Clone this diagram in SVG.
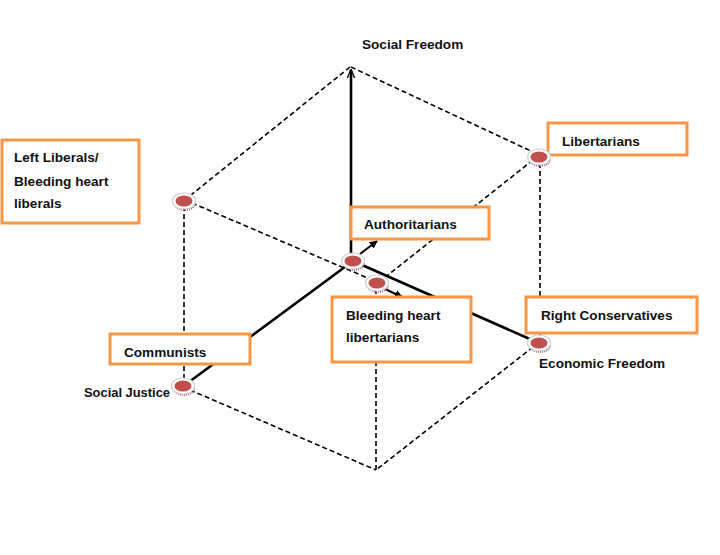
<svg xmlns="http://www.w3.org/2000/svg" width="720" height="555" viewBox="0 0 720 555">
<defs>
<style>
.dash{fill:none;stroke:#000;stroke-width:1.6;stroke-dasharray:5 3}
.solid{fill:none;stroke:#000;stroke-width:2.6}
.box{fill:#fff;stroke:#f79646;stroke-width:3}
.t{font-family:"Liberation Sans",Arial,sans-serif;font-weight:bold;font-size:13.6px;fill:#111}
.halo{fill:#fff;stroke:#cfcfcf;stroke-width:1.2}
.shadow{fill:none;stroke:#a8606a;stroke-width:1.8;stroke-dasharray:1 1}
.red{fill:#c0504d}
</style>
<marker id="ah" viewBox="0 0 10 10" refX="9" refY="5" markerWidth="4" markerHeight="4" orient="auto" markerUnits="strokeWidth">
<path d="M0,0 L10,5 L0,10 z" fill="#000"/>
</marker>
<marker id="ahTop" viewBox="0 0 10 10" refX="9" refY="5" markerWidth="3.5" markerHeight="3.5" orient="auto" markerUnits="strokeWidth">
<path d="M0,1 L10,5 L0,9" fill="none" stroke="#000" stroke-width="1.5"/>
</marker>
<g id="dot">
<ellipse cx="1" cy="2.5" rx="10" ry="6.5" class="shadow"/>
<ellipse cx="0" cy="0" rx="11.5" ry="8" class="halo"/>
<ellipse cx="0" cy="0" rx="8.5" ry="5.5" class="red"/>
</g>
</defs>

<g id="connectors">
<line class="dash" x1="350" y1="67" x2="186" y2="199"/>
<line class="dash" x1="351" y1="67" x2="533" y2="152"/>
<line class="dash" x1="184" y1="206" x2="184" y2="380"/>
<line class="dash" x1="540" y1="163" x2="540" y2="337"/>
<line class="dash" x1="190" y1="390" x2="376" y2="470"/>
<line class="dash" x1="533" y1="347" x2="376" y2="470"/>
<line class="dash" x1="376" y1="470" x2="376" y2="288"/>
<line class="dash" x1="192" y1="203" x2="370" y2="279"/>
<line class="dash" x1="533" y1="160" x2="383" y2="279"/>
<line class="solid" x1="351" y1="256" x2="351" y2="70" marker-end="url(#ahTop)"/>
<line class="solid" x1="353" y1="261" x2="189" y2="382"/>
<line class="solid" x1="353" y1="261" x2="532" y2="340"/>
<line x1="360" y1="254" x2="377" y2="241" stroke="#000" stroke-width="2" marker-end="url(#ah)"/>
<line x1="385" y1="289" x2="402" y2="297" stroke="#000" stroke-width="2" marker-end="url(#ah)"/>
</g>

<g id="social-freedom"><text class="t" x="362" y="49">Social Freedom</text></g>

<g id="left-liberals">
<rect class="box" x="2" y="140" width="137" height="83"/>
<text class="t" x="14" y="162">Left Liberals/</text>
<text class="t" x="14" y="186">Bleeding heart</text>
<text class="t" x="14" y="208">liberals</text>
<use href="#dot" x="184" y="201"/>
</g>

<g id="libertarians">
<rect class="box" x="548" y="123" width="139" height="32"/>
<text class="t" x="562" y="146">Libertarians</text>
<use href="#dot" x="539" y="157"/>
</g>

<g id="authoritarians">
<rect class="box" x="351" y="207" width="138" height="32"/>
<text class="t" x="364" y="229">Authoritarians</text>
<use href="#dot" x="353" y="261"/>
</g>

<g id="bleeding-heart-libertarians">
<use href="#dot" x="377" y="283"/>
<rect class="box" x="332" y="297" width="139" height="65"/>
<text class="t" x="346" y="320">Bleeding heart</text>
<text class="t" x="346" y="342">libertarians</text>
</g>

<g id="communists">
<rect class="box" x="110" y="334" width="140" height="30"/>
<text class="t" x="124" y="357">Communists</text>
</g>

<g id="social-justice">
<use href="#dot" x="183" y="386"/>
<text class="t" x="84" y="397" textLength="86" lengthAdjust="spacingAndGlyphs">Social Justice</text>
</g>

<g id="right-conservatives">
<rect class="box" x="526" y="297" width="171" height="36"/>
<text class="t" x="541" y="320">Right Conservatives</text>
</g>

<g id="economic-freedom">
<use href="#dot" x="539" y="343"/>
<text class="t" x="539" y="368">Economic Freedom</text>
</g>
</svg>
